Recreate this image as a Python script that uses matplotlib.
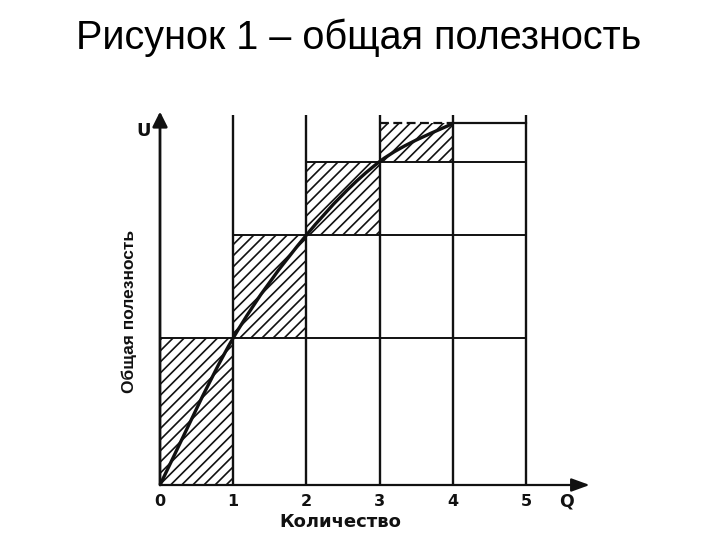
import matplotlib
matplotlib.use("Agg")
import matplotlib.pyplot as plt
from matplotlib.patches import Rectangle, PathPatch
from matplotlib.path import Path
import numpy as np

# ---- data ----
quantity = [0, 1, 2, 3, 4, 5]
total_utility = [0, 10, 17, 22, 24.6, 24.6]
tick_labels = ["0", "1", "2", "3", "4", "5"]
title = "Рисунок 1 – общая полезность"
xlabel = "Количество"
ylabel = "Общая полезность"

plt.rcParams['hatch.linewidth'] = 1.2
plt.rcParams['hatch.color'] = '#111111'

fig = plt.figure(figsize=(7.2, 5.4), dpi=100)
ax = fig.add_axes([0, 0, 1, 1])
# pixel mapping: x=0 -> 160 px, 1 unit = 73.2 px; y=0 -> 485 px from top, 1 unit = 14.7 px
xs, ys = 73.2, 14.7
ax.set_xlim(-160 / xs, (720 - 160) / xs)
ax.set_ylim(-(540 - 485) / ys, 485 / ys)
ax.axis('off')

ink = '#111111'
top = 25.2

# hatched marginal-utility rectangles
for i in range(1, 5):
    x0 = quantity[i - 1]
    y0 = total_utility[i - 1]
    h = total_utility[i] - y0
    ax.add_patch(Rectangle((x0, y0), 1, h, facecolor='white', edgecolor=ink,
                           hatch='///', linewidth=0, zorder=1))

# vertical grid lines
for q in quantity[1:]:
    ax.plot([q, q], [0, top], color=ink, lw=1.7, zorder=3, solid_capstyle='butt')

# horizontal levels
for i in range(1, 5):
    start = quantity[i - 1] if i > 1 else 0
    lev = total_utility[i]
    if i == 4:
        ax.plot([quantity[3], quantity[4]], [lev, lev], color=ink, lw=1.6,
                ls=(0, (4, 2)), zorder=3)
        ax.plot([quantity[4], quantity[5]], [lev, lev], color=ink, lw=1.6, zorder=3)
    else:
        ax.plot([start, quantity[-1]], [lev, lev], color=ink, lw=1.4, zorder=3)

# smooth total utility curve (Catmull-Rom -> Bezier through data points)
px = np.array(quantity[:5], dtype=float) * xs
py = np.array(total_utility[:5], dtype=float) * ys
verts = [(px[0], py[0])]
codes = [Path.MOVETO]
n = len(px)
for k in range(n - 1):
    p0 = np.array([px[max(k - 1, 0)], py[max(k - 1, 0)]])
    p1 = np.array([px[k], py[k]])
    p2 = np.array([px[k + 1], py[k + 1]])
    p3 = np.array([px[min(k + 2, n - 1)], py[min(k + 2, n - 1)]])
    c1 = p1 + (p2 - p0) / 6.0
    c2 = p2 - (p3 - p1) / 6.0
    verts += [tuple(c1), tuple(c2), tuple(p2)]
    codes += [Path.CURVE4] * 3
verts = [(vx / xs, vy / ys) for vx, vy in verts]
ax.add_patch(PathPatch(Path(verts, codes), facecolor='none', edgecolor=ink,
                       lw=2.4, zorder=4))

# axes with arrows
ax.annotate('', xy=(5.87, 0), xytext=(0, 0),
            arrowprops=dict(arrowstyle='-|>,head_length=1.1,head_width=0.4',
                            color=ink, lw=1.6, shrinkA=0, shrinkB=0), zorder=5)
ax.annotate('', xy=(0, 25.4), xytext=(0, 0),
            arrowprops=dict(arrowstyle='-|>,head_length=0.9,head_width=0.45',
                            color=ink, lw=2.0, shrinkA=0, shrinkB=0), zorder=5)

# tick labels
for q, lab in zip(quantity, tick_labels):
    ax.text(q, -1.15, lab, ha='center', va='center', fontsize=11.5,
            fontweight='bold', family='DejaVu Sans', color=ink)
ax.text(5.55, -1.15, 'Q', ha='center', va='center', fontsize=12.5,
        fontweight='bold', family='DejaVu Sans', color=ink)
ax.text(-0.22, 24.1, 'U', ha='center', va='center', fontsize=13,
        fontweight='bold', family='DejaVu Sans', color=ink)
ax.text(2.47, -2.5, xlabel, ha='center', va='center', fontsize=13,
        fontweight='bold', family='DejaVu Sans', color=ink)
ax.text(-0.42, 11.8, ylabel, ha='center', va='center', fontsize=12.5,
        fontweight='bold', family='Liberation Sans', rotation=90, color=ink)

fig.text(359 / 720, 1 - 38 / 540, title, ha='center', va='center',
         fontsize=28.5, family='Liberation Sans', color='black')

fig.savefig('out.png', dpi=100, facecolor='white')
